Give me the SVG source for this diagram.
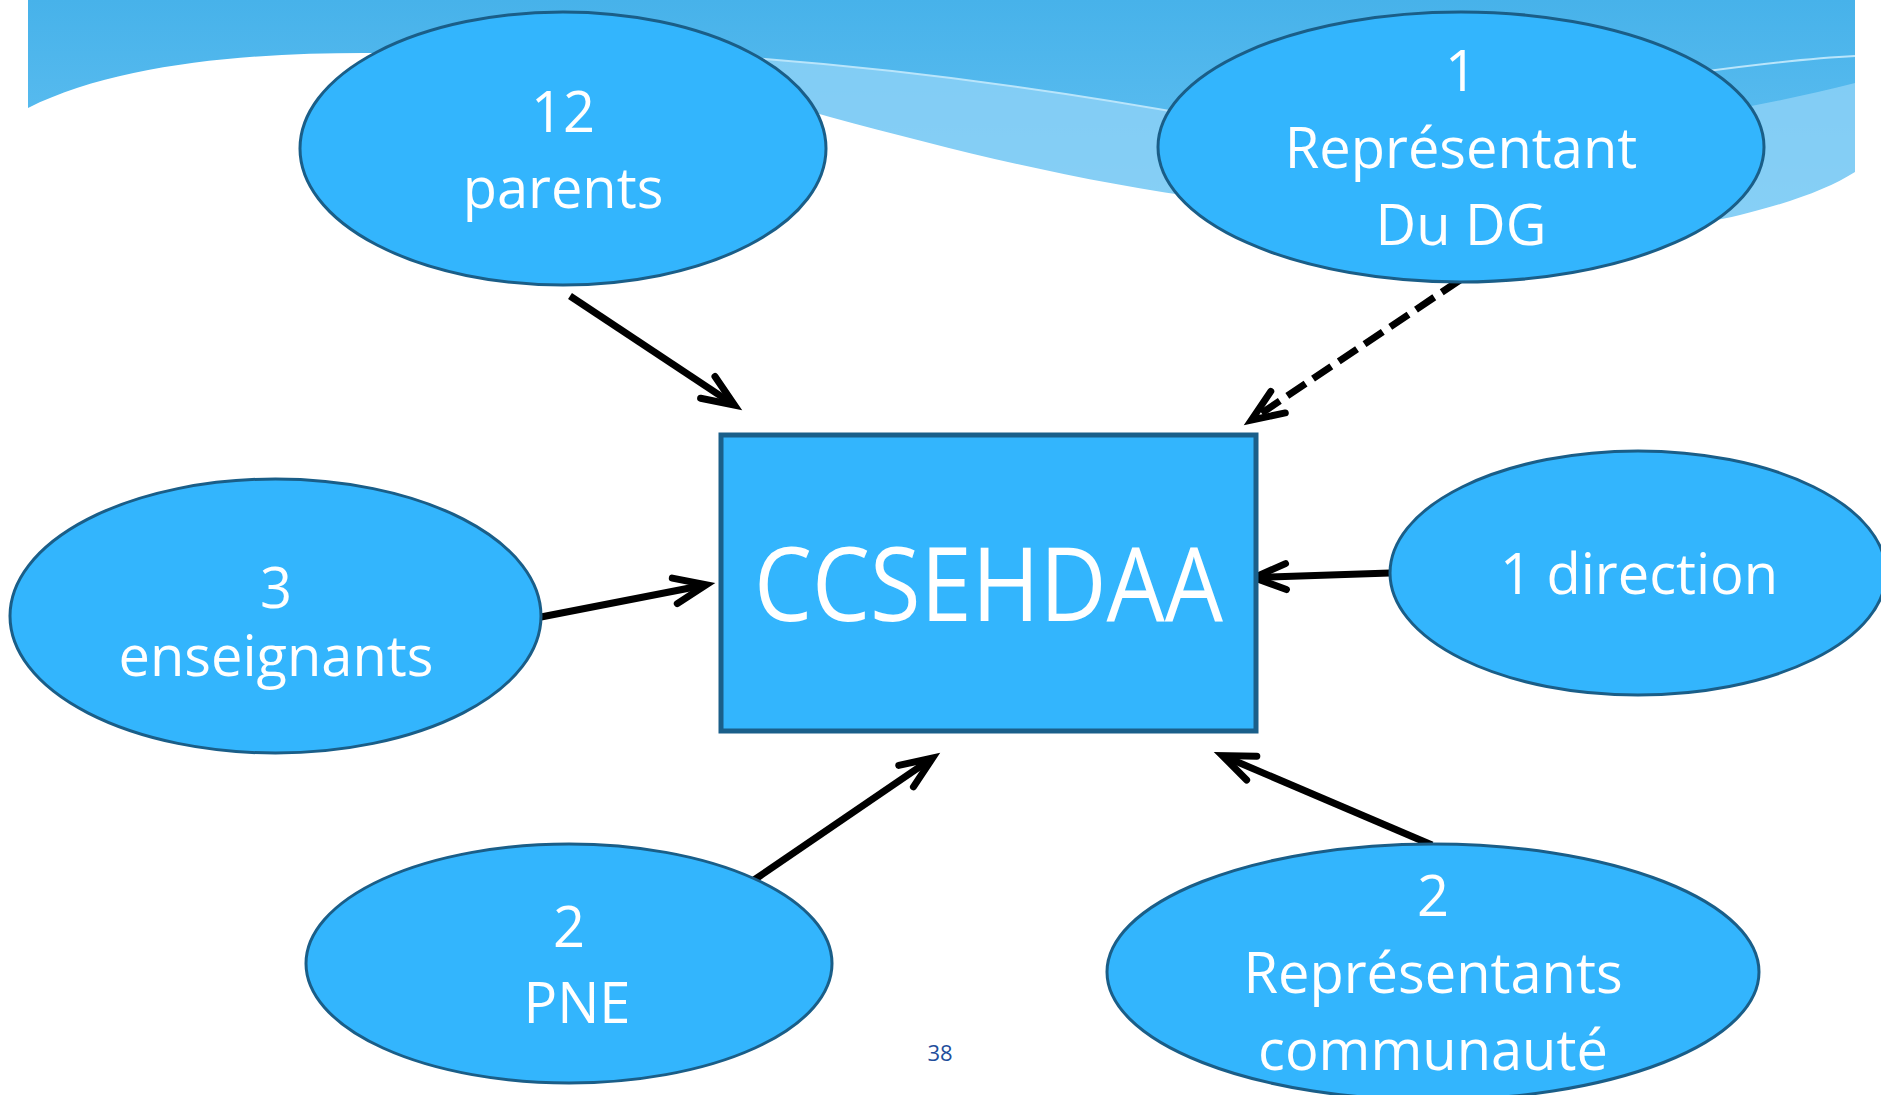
<svg xmlns="http://www.w3.org/2000/svg" width="1881" height="1095" viewBox="0 0 1881 1095">
  <defs>
    <linearGradient id="band" x1="0" y1="0" x2="0" y2="1">
      <stop offset="0" stop-color="#47b2ea"/>
      <stop offset="1" stop-color="#6ac5f4"/>
    </linearGradient>
    <marker id="arr" markerUnits="userSpaceOnUse" markerWidth="60" markerHeight="60" refX="0" refY="0" orient="auto" overflow="visible" viewBox="-40 -30 60 60">
      <path d="M-27,-13 L5,0 L-27,13" fill="none" stroke="#000" stroke-width="7" stroke-linecap="round" stroke-linejoin="miter" stroke-miterlimit="10"/>
    </marker>
    <style>
      .node { fill: #33b5fd; stroke: #1a5e88; stroke-width: 3; }
      .lbl { fill: #ffffff; font-family: "Open Sans", "Noto Sans", "DejaVu Sans", sans-serif; font-size: 56px; text-anchor: middle; }
      .conn { fill: none; stroke: #000; stroke-width: 7; marker-end: url(#arr); }
      .dash { stroke-dasharray: 22 9; }
    </style>
  </defs>

  <rect x="0" y="0" width="1881" height="1095" fill="#ffffff"/>

  <g id="background">
    <rect x="28" y="0" width="1827" height="260" fill="url(#band)"/>
    <path d="M600,50 C800,56 1000,80 1204,117 C1420,156 1650,135 1855,83 L1855,260 L600,260 Z" fill="#8fd2f6" opacity="0.8"/>
    <path d="M600,50 C800,56 1000,80 1204,117" fill="none" stroke="#b9e5fb" stroke-width="2"/>
    <path d="M1700,72 C1760,64 1810,58 1855,56" fill="none" stroke="#b9e5fb" stroke-width="2"/>
    <path d="M28,108 C120,62 260,52 380,53 C560,54 700,80 830,117 C960,152 1080,182 1217,200 C1400,226 1620,245 1740,215 C1790,203 1830,188 1855,172 L1855,300 L28,300 Z" fill="#ffffff"/>
  </g>

  <g id="connectors">
    <line class="conn" x1="570" y1="296" x2="730.3" y2="402.3"/>
    <line class="conn dash" x1="1460" y1="280" x2="1255.6" y2="417.2"/>
    <line class="conn" x1="541" y1="617" x2="701.3" y2="585.7"/>
    <line class="conn" x1="1390" y1="573" x2="1259" y2="577.5"/>
    <line class="conn" x1="754" y1="880" x2="928.4" y2="760.9"/>
    <line class="conn" x1="1432" y1="845" x2="1226.9" y2="757.5"/>
  </g>

  <g id="node-parents">
    <ellipse class="node" cx="563" cy="148.5" rx="263" ry="136.5"/>
    <text class="lbl" x="563" y="132">12</text>
    <text class="lbl" x="563" y="208">parents</text>
  </g>

  <g id="node-dg">
    <ellipse class="node" cx="1461" cy="147" rx="303" ry="135"/>
    <text class="lbl" x="1461" y="91">1</text>
    <text class="lbl" x="1461" y="168">Représentant</text>
    <text class="lbl" x="1461" y="245">Du DG</text>
  </g>

  <g id="node-enseignants">
    <ellipse class="node" cx="275.5" cy="616" rx="265.5" ry="137"/>
    <text class="lbl" x="276" y="608">3</text>
    <text class="lbl" x="276" y="676">enseignants</text>
  </g>

  <g id="node-direction">
    <ellipse class="node" cx="1638" cy="573" rx="248" ry="122"/>
    <text class="lbl" x="1639" y="594">1 direction</text>
  </g>

  <g id="node-pne">
    <ellipse class="node" cx="569" cy="963.5" rx="263" ry="119.5"/>
    <text class="lbl" x="569" y="947">2</text>
    <text class="lbl" x="577" y="1023">PNE</text>
  </g>

  <g id="node-communaute">
    <ellipse class="node" cx="1433" cy="972" rx="326" ry="128"/>
    <text class="lbl" x="1433" y="916">2</text>
    <text class="lbl" x="1433" y="993">Représentants</text>
    <text class="lbl" x="1433" y="1070">communauté</text>
  </g>

  <g id="node-ccsehdaa">
    <rect x="721" y="435" width="535" height="296" fill="#33b5fd" stroke="#1a5f8a" stroke-width="5"/>
    <text x="988.5" y="621" fill="#ffffff" font-family="'Open Sans', 'Noto Sans', sans-serif" font-size="102" text-anchor="middle" textLength="469" lengthAdjust="spacingAndGlyphs">CCSEHDAA</text>
  </g>

  <text id="page-number" x="940" y="1061" fill="#1f4e9c" font-family="'Open Sans', 'Noto Sans', sans-serif" font-size="22" text-anchor="middle">38</text>
</svg>
